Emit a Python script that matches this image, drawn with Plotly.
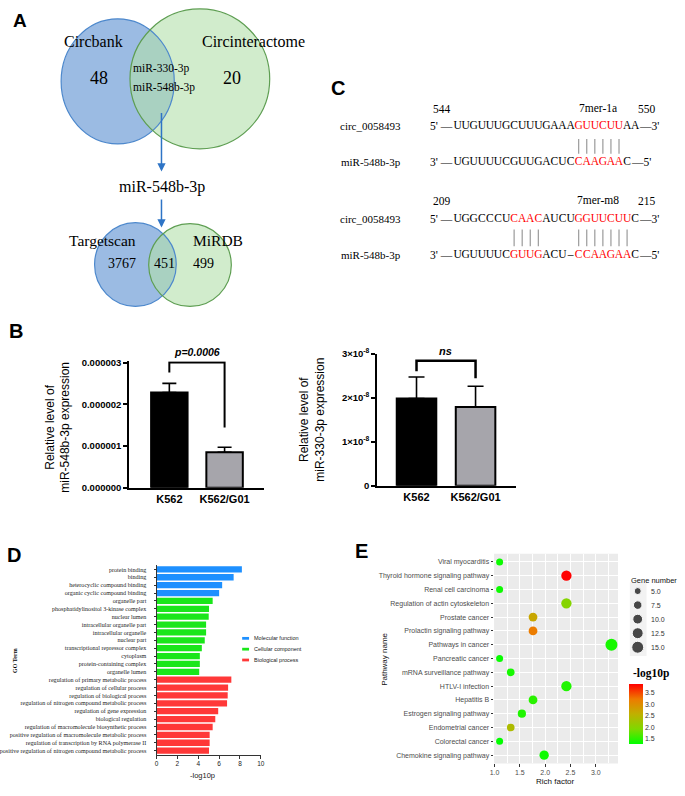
import numpy as np
import plotly.graph_objects as go

W, H = 685, 796
SANS = "Liberation Sans"
SERIF = "Liberation Serif"

# ---------------- data ----------------
# Panel A (Venn diagrams)
venn1_sets = ["Circbank", "Circinteractome"]
venn1_only = [48, 20]
venn1_shared = ["miR-330-3p", "miR-548b-3p"]
selected_mirna = "miR-548b-3p"
venn2_sets = ["Targetscan", "MiRDB"]
venn2_counts = [3767, 451, 499]   # Targetscan only, shared, MiRDB only

# Panel B (qPCR)
groups = ["K562", "K562/G01"]
mir548_mean = [2.28e-6, 0.85e-6]
mir548_sd = [0.22e-6, 0.12e-6]
mir548_label = "p=0.0006"
mir330_mean = [1.98e-8, 1.79e-8]
mir330_sd = [0.49e-8, 0.47e-8]
mir330_label = "ns"

# Panel C (binding sites)
circ_name = "circ_0058493"
mir_name = "miR-548b-3p"
site1_pos = [544, 550]
site1_type = "7mer-1a"
site1_circ = "UUGUUUGCUUUGAAAGUUCUUAA"
site1_mir = "UGUUUUCGUUGACUCCAAGAAC"
site1_pairs = [15, 16, 17, 18, 19, 20]
site2_pos = [209, 215]
site2_type = "7mer-m8"
site2_circ = "UGGCCCUCAACAUCUGGUUCUUC"
site2_mir = "UGUUUUCGUUGACU–CCAAGAAC"
site2_pairs = [7, 8, 9, 10, 15, 16, 17, 18, 19, 20, 21]

# Panel D (GO)
go_terms = [
    "protein binding", "binding", "heterocyclic compound binding",
    "organic cyclic compound binding", "organelle part",
    "phosphatidylinositol 3-kinase complex", "nuclear lumen",
    "intracellular organelle part", "intracellular organelle", "nuclear part",
    "transcriptional repressor complex", "cytoplasm", "protein-containing complex",
    "organelle lumen", "regulation of primary metabolic process",
    "regulation of cellular process", "regulation of biological process",
    "regulation of nitrogen compound metabolic process", "regulation of gene expression",
    "biological regulation", "regulation of macromolecule biosynthetic process",
    "positive regulation of macromolecule metabolic process",
    "regulation of transcription by RNA polymerase II",
    "positive regulation of nitrogen compound metabolic process",
]
go_values = [8.18, 7.39, 6.29, 6.0, 5.38, 5.03, 5.0, 4.75, 4.75, 4.62, 4.34, 4.15,
             4.15, 4.09, 7.17, 6.86, 6.82, 6.76, 5.91, 5.63, 5.38, 5.09, 5.09, 5.03]
go_category = ["MF"] * 4 + ["CC"] * 10 + ["BP"] * 10
go_cat_names = {"MF": "Molecular function", "CC": "Cellular component", "BP": "Biological process"}
go_cat_colors = {"MF": "#1E90FF", "CC": "#1AE61A", "BP": "#FF3838"}

# Panel E (KEGG)
kegg_pathways = [
    "Viral myocarditis", "Thyroid hormone signaling pathway", "Renal cell carcinoma",
    "Regulation of actin cytoskeleton", "Prostate cancer", "Prolactin signaling pathway",
    "Pathways in cancer", "Pancreatic cancer", "mRNA surveillance pathway",
    "HTLV-I infection", "Hepatitis B", "Estrogen signaling pathway",
    "Endometrial cancer", "Colorectal cancer", "Chemokine signaling pathway",
]
rich_factor = [1.10, 2.42, 1.10, 2.42, 1.76, 1.76, 3.31, 1.10, 1.32, 2.42, 1.76, 1.54, 1.32, 1.10, 1.98]
gene_number = [5, 11, 5, 11, 8, 8, 15, 5, 6, 11, 8, 7, 6, 5, 9]
neg_log10p = [1.35, 3.88, 1.35, 2.0, 2.7, 3.2, 1.4, 1.33, 1.4, 1.45, 1.5, 1.45, 2.4, 1.3, 1.35]
gene_legend = [5.0, 7.5, 10.0, 12.5, 15.0]
logp_ticks = [1.5, 2.0, 2.5, 3.0, 3.5]

# ---------------- helpers ----------------
def dx(a, b):
    return [a / W, b / W]

def dy(top, bottom):
    return [1 - bottom / H, 1 - top / H]

annotations = []
shapes = []

def ann(text, x, y, size, family=SANS, color="black", xanchor="center", yanchor="middle",
        xref="paper", yref="paper", angle=0, bold=False, italic=False):
    f = dict(family=family, size=size, color=color)
    if bold:
        f["weight"] = "bold"
    if italic:
        f["style"] = "italic"
    if xref == "paper":
        x = x / W
    if yref == "paper":
        y = 1 - y / H
    annotations.append(dict(text=text, x=x, y=y, xref=xref, yref=yref, showarrow=False,
                            xanchor=xanchor, yanchor=yanchor, font=f, textangle=angle,
                            borderpad=0))

fig = go.Figure()

# ---------------- Panel A ----------------
blue_fill = "rgb(155,187,227)"
green_fill = "rgba(178,223,170,0.6)"
blue_line = "#4D88CC"
green_line = "#5E9E52"
venn_big = [(55, 12, 170, 139), (125, 2, 267, 144)]
venn_small = [(89, 219, 172, 304), (144, 220, 228, 304)]
for (b, g) in [venn_big, venn_small]:
    shapes.append(dict(type="circle", xref="x", yref="y", x0=b[0], y0=b[1], x1=b[2], y1=b[3],
                       fillcolor=blue_fill, line=dict(width=0), layer="below"))
    shapes.append(dict(type="circle", xref="x", yref="y", x0=g[0], y0=g[1], x1=g[2], y1=g[3],
                       fillcolor=green_fill, line=dict(width=0), layer="below"))
    shapes.append(dict(type="circle", xref="x", yref="y", x0=b[0], y0=b[1], x1=b[2], y1=b[3],
                       line=dict(color=blue_line, width=1.2)))
    shapes.append(dict(type="circle", xref="x", yref="y", x0=g[0], y0=g[1], x1=g[2], y1=g[3],
                       line=dict(color=green_line, width=1.2)))

ann(venn1_sets[0], 87.5, 35, 16, SERIF, xref="x", yref="y")
ann(venn1_sets[1], 251, 35, 16, SERIF, xref="x", yref="y")
ann(str(venn1_only[0]), 94, 72, 18, SERIF, xref="x", yref="y")
ann(str(venn1_only[1]), 229, 72, 18, SERIF, xref="x", yref="y")
ann(venn1_shared[0], 157, 62, 11.5, SERIF, xref="x", yref="y")
ann(venn1_shared[1], 160, 82, 11.5, SERIF, xref="x", yref="y")
ann(selected_mirna, 157.5, 183, 16, SERIF, xref="x", yref="y")
ann(venn2_sets[0], 97.5, 237, 15.5, SERIF, xref="x", yref="y")
ann(venn2_sets[1], 214, 237, 15.5, SERIF, xref="x", yref="y")
ann(str(venn2_counts[0]), 117, 260, 14, SERIF, xref="x", yref="y")
ann(str(venn2_counts[1]), 160, 260, 14, SERIF, xref="x", yref="y")
ann(str(venn2_counts[2]), 200, 260, 14, SERIF, xref="x", yref="y")
for (tail, head) in [(106, 167), (194, 224)]:
    annotations.append(dict(x=157, y=head, ax=157, ay=tail, xref="x", yref="y", axref="x", ayref="y",
                            showarrow=True, arrowhead=2, arrowsize=1.1, arrowwidth=1.5,
                            arrowcolor="#2E74C6", text=""))

# ---------------- Panel B ----------------
bar_colors = ["black", "#A6A5AB"]
fig.add_trace(go.Bar(x=[0, 1], y=mir548_mean, width=0.66, xaxis="x2", yaxis="y2",
                     marker=dict(color=bar_colors, line=dict(color="black", width=2)),
                     error_y=dict(type="data", symmetric=False, array=mir548_sd, arrayminus=[0, 0],
                                  color="black", thickness=1.6, width=7)))
fig.add_trace(go.Scatter(x=[0, 0, 1, 1], y=[2.76e-6, 3.0e-6, 3.0e-6, 1.44e-6], mode="lines",
                         line=dict(color="black", width=2), xaxis="x2", yaxis="y2"))
fig.add_trace(go.Bar(x=[0, 1], y=mir330_mean, width=0.67, xaxis="x3", yaxis="y3",
                     marker=dict(color=bar_colors, line=dict(color="black", width=2)),
                     error_y=dict(type="data", symmetric=False, array=mir330_sd, arrayminus=[0, 0],
                                  color="black", thickness=1.6, width=8)))
fig.add_trace(go.Scatter(x=[0, 0, 1, 1], y=[2.6e-8, 2.84e-8, 2.84e-8, 2.44e-8], mode="lines",
                         line=dict(color="black", width=2.5), xaxis="x3", yaxis="y3"))
ann(mir548_label, 193, 350, 10.5, bold=True, italic=True)
ann(mir330_label, 446, 349, 11, bold=True, italic=True)
ann("Relative level of<br>miR-548b-3p expression", 51, 427, 12, angle=-90)
ann("Relative level of<br>miR-330-3p expression", 310, 419, 12, angle=-90)

# ---------------- Panel C ----------------
C0, CS = 458.0, 8.2   # pixel of index 0, pixels per nucleotide

def cx(p):
    return (p - C0) / CS

def seq_trace(seq, y, pairs):
    cols = ["#FF0000" if i in pairs else "black" for i in range(len(seq))]
    return go.Scatter(x=list(range(len(seq))), y=[y] * len(seq), text=list(seq), mode="text",
                      textfont=dict(family=SERIF, size=11.5, color=cols), xaxis="x4", yaxis="y4",
                      cliponaxis=False)

blocks = [(site1_pos, site1_type, site1_circ, site1_mir, site1_pairs, 104, 121, 157, 134, 149),
          (site2_pos, site2_type, site2_circ, site2_mir, site2_pairs, 197, 215, 252, 226, 243)]
for pos, stype, cseq, mseq, pairs, ynum, yc, ym, yl0, yl1 in blocks:
    fig.add_trace(seq_trace(cseq, yc, pairs))
    fig.add_trace(seq_trace(mseq, ym, pairs))
    lx, ly = [], []
    for p in pairs:
        lx += [p, p, None]
        ly += [yl0, yl1, None]
    fig.add_trace(go.Scatter(x=lx, y=ly, mode="lines", line=dict(color="#9A9A9A", width=1.2),
                             xaxis="x4", yaxis="y4"))
    ann("5' —", -0.4, yc, 11.5, SERIF, xanchor="right", xref="x4", yref="y4")
    ann("3' —", -0.4, ym, 11.5, SERIF, xanchor="right", xref="x4", yref="y4")
    ann("—3'", len(cseq) - 0.6, yc, 11.5, SERIF, xanchor="left", xref="x4", yref="y4")
    ann("—5'", len(mseq) - 0.6, ym, 11.5, SERIF, xanchor="left", xref="x4", yref="y4")
    ann(str(pos[0]), cx(432), ynum, 11.5, SERIF, xanchor="left", xref="x4", yref="y4")
    ann(str(pos[1]), cx(650), ynum, 11.5, SERIF, xref="x4", yref="y4")
    ann(stype, cx(601), ynum - 1, 11.5, SERIF, xref="x4", yref="y4")
    ann(circ_name, 401, yc, 11, SERIF, xanchor="right")
    ann(mir_name, 401, ym, 11, SERIF, xanchor="right")

# ---------------- Panel D ----------------
fig.add_trace(go.Bar(y=go_terms, x=go_values, orientation="h", xaxis="x5", yaxis="y5",
                     marker=dict(color=[go_cat_colors[c] for c in go_category], line=dict(width=0))))
for i, c in enumerate(["MF", "CC", "BP"]):
    yy = 641 + 11 * i
    shapes.append(dict(type="rect", xref="paper", yref="paper", x0=239 / W, x1=246 / W,
                       y0=1 - (yy + 1.4) / H, y1=1 - (yy - 1.4) / H,
                       fillcolor=go_cat_colors[c], line=dict(width=0)))
    ann(go_cat_names[c], 250, yy, 5.5, xanchor="left", color="#222")
ann("GO Term", 8, 663, 6, SERIF, angle=-90, bold=True)
ann("-log10p", 199, 780, 7.5, color="#222")

# ---------------- Panel E ----------------
def gene_size(n):
    return np.sqrt(1.5 + 9.5 * np.asarray(n, dtype=float))

cscale = [[0.0, "#00FF00"], [0.25, "#7FD800"], [0.5, "#C0B000"], [0.75, "#EE7A00"], [1.0, "#FF0000"]]
fig.add_trace(go.Scatter(
    x=rich_factor, y=kegg_pathways, mode="markers", xaxis="x6", yaxis="y6",
    marker=dict(size=gene_size(gene_number), color=neg_log10p, colorscale=cscale,
                cmin=1.29, cmax=3.88, opacity=1, line=dict(width=0),
                showscale=True,
                colorbar=dict(x=632 / W, xanchor="left", y=1 - 717.5 / H, yanchor="middle",
                              len=61 / H, lenmode="fraction", thickness=14, thicknessmode="pixels",
                              xpad=0, ypad=0, outlinewidth=0, ticks="",
                              tickvals=logp_ticks, ticktext=[f"{v:.1f}" for v in logp_ticks],
                              tickfont=dict(family=SANS, size=7, color="#333")))))
# gene number legend
shapes.append(dict(type="rect", xref="paper", yref="paper", x0=633 / W, x1=650 / W,
                   y0=1 - 659 / H, y1=1 - 584 / H, fillcolor="#F2F2F2", line=dict(width=0), layer="below"))
fig.add_trace(go.Scatter(x=[641] * len(gene_legend), y=gene_legend, mode="markers",
                         marker=dict(size=gene_size(gene_legend), color="black"),
                         xaxis="x7", yaxis="y7", cliponaxis=False))
for v in gene_legend:
    ann(f"{v:.1f}", 653, v, 7, xanchor="left", color="#333", xref="x7", yref="y7")
ann("Gene number", 633, 582, 7.5, xanchor="left", color="#111")
ann("-log10p", 655, 677, 11.5, SERIF, bold=True)
ann("Pathway name", 383, 662, 8, angle=-90, color="#111")
ann("Rich factor", 557, 786, 8, color="#111")
shapes.append(dict(type="rect", xref="x6 domain", yref="y6 domain", x0=0, x1=1, y0=0, y1=1,
                   fillcolor="#EBEBEB", line=dict(width=0), layer="below"))

# ---------------- panel letters ----------------
ann("A", 13, 14, 19, bold=True)
ann("B", 9, 329, 20, bold=True)
ann("C", 336, 82, 20, bold=True)
ann("D", 7, 556, 20, bold=True)
ann("E", 360, 552, 20, bold=True)

# ---------------- layout ----------------
hidden = dict(visible=False, showgrid=False, zeroline=False)
bx_common = dict(showline=True, linecolor="black", linewidth=1.6, ticks="", showgrid=False, zeroline=False,
                 tickmode="array", tickvals=[0, 1], ticktext=groups,
                 tickfont=dict(family=SANS, size=11, weight="bold", color="black"))
by_common = dict(showline=True, linecolor="black", linewidth=1.6, ticks="outside", ticklen=4,
                 tickwidth=1.6, tickcolor="black", showgrid=False, zeroline=False,
                 tickfont=dict(family=SANS, size=9.5, weight="bold", color="black"))

fig.update_layout(
    width=W, height=H, margin=dict(l=0, r=0, t=0, b=0),
    paper_bgcolor="white", plot_bgcolor="rgba(0,0,0,0)", showlegend=False,
    font=dict(family=SANS, color="black"),
    annotations=annotations, shapes=shapes,
    xaxis=dict(domain=dx(0, 340), range=[0, 340], anchor="y", **hidden),
    yaxis=dict(domain=dy(0, 310), range=[310, 0], anchor="x", **hidden),
    xaxis2=dict(domain=dx(124, 261), range=[-0.73, 1.71], anchor="y2", **bx_common),
    yaxis2=dict(domain=dy(359.7, 488), range=[0, 3.03e-6], anchor="x2",
                tickmode="array", tickvals=[0, 1e-6, 2e-6, 3e-6],
                ticktext=["0.000000", "0.000001", "0.000002", "0.000003"], **by_common),
    xaxis3=dict(domain=dx(376, 517), range=[-0.67, 1.68], anchor="y3", **bx_common),
    yaxis3=dict(domain=dy(352, 486), range=[0, 3e-8], anchor="x3",
                tickmode="array", tickvals=[0, 1e-8, 2e-8, 3e-8],
                ticktext=["0", "1×10<sup>-8</sup>", "2×10<sup>-8</sup>", "3×10<sup>-8</sup>"], **by_common),
    xaxis4=dict(domain=dx(330, 680), range=[cx(330), cx(680)], anchor="y4", **hidden),
    yaxis4=dict(domain=dy(60, 290), range=[290, 60], anchor="x4", **hidden),
    xaxis5=dict(domain=dx(152, 258), range=[0, 10], anchor="y5", showline=True, linecolor="#333",
                linewidth=1, ticks="outside", ticklen=3, tickcolor="#333", tickvals=[0, 2, 4, 6, 8, 10],
                showgrid=False, zeroline=False, tickfont=dict(family=SANS, size=6.5, color="#222")),
    yaxis5=dict(domain=dy(567, 759), type="category", categoryorder="array", categoryarray=go_terms,
                range=[23.5, -0.5], anchor="x5", showline=True, linecolor="#333", linewidth=1,
                ticks="outside", ticklen=2, tickcolor="#333", showgrid=False, zeroline=False,
                ticklabelstandoff=6, tickfont=dict(family=SERIF, size=6.1, color="#222")),
    xaxis6=dict(domain=dx(495, 621), range=[0.99, 3.44], anchor="y6", showline=False,
                tickvals=[1.0, 1.5, 2.0, 2.5, 3.0], ticktext=["1.0", "1.5", "2.0", "2.5", "3.0"],
                ticks="outside", ticklen=2.5, tickcolor="#333", showgrid=True, gridcolor="white",
                gridwidth=1, zeroline=False,
                minor=dict(tickvals=[1.25, 1.75, 2.25, 2.75, 3.25], showgrid=True, gridcolor="white",
                           gridwidth=0.5, ticks=""),
                tickfont=dict(family=SANS, size=7, color="#4D4D4D")),
    yaxis6=dict(domain=dy(555, 768), type="category", categoryorder="array", categoryarray=kegg_pathways,
                range=[14.6, -0.6], anchor="x6", showline=False, ticks="outside", ticklen=2.5,
                tickcolor="#333", showgrid=True, gridcolor="white", gridwidth=1, zeroline=False,
                tickfont=dict(family=SANS, size=7, color="#4D4D4D")),
    xaxis7=dict(domain=dx(625, 685), range=[625, 685], anchor="y7", **hidden),
    yaxis7=dict(domain=dy(570, 660), range=[16.75, 0.965], anchor="x7", **hidden),
)

fig.write_html("out.html", config={"displayModeBar": False},
               post_script="document.body.style.margin='0px';")
